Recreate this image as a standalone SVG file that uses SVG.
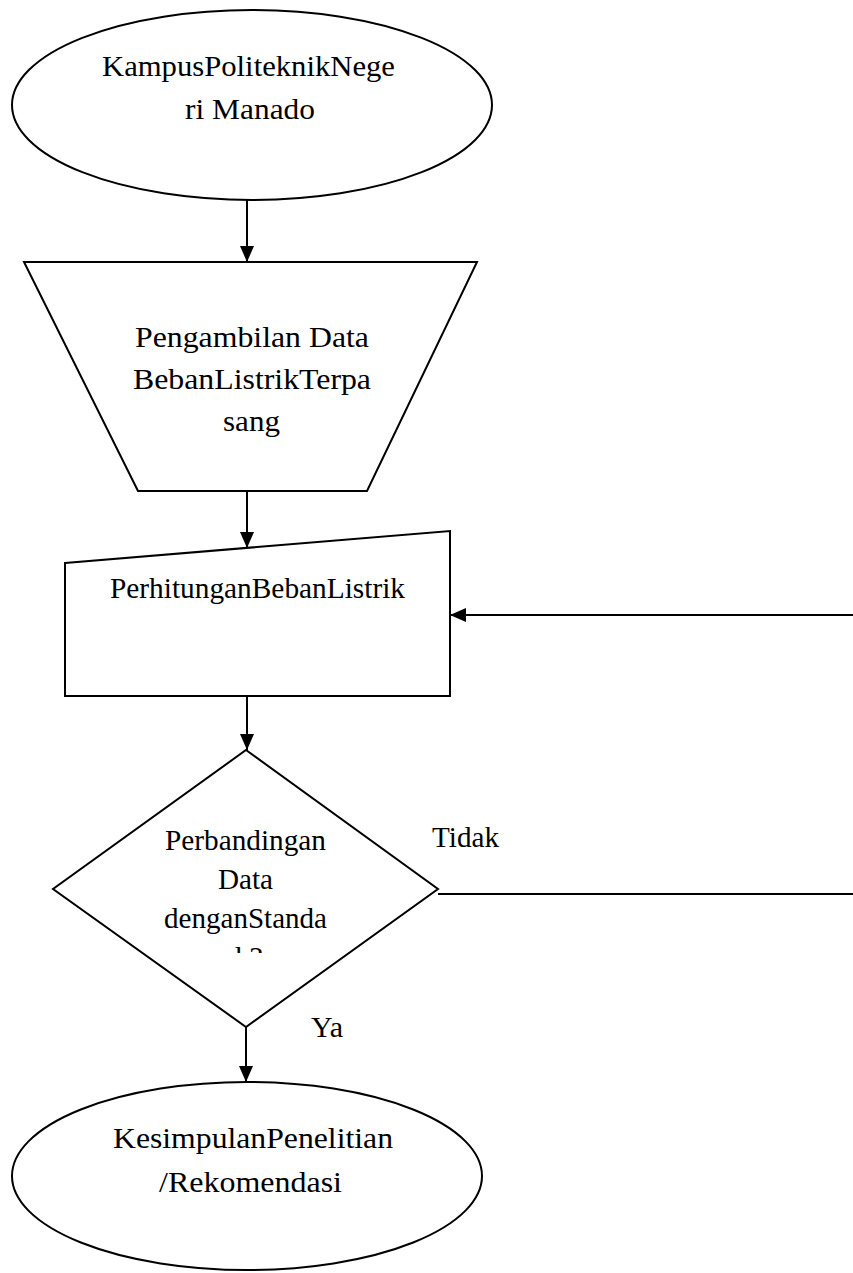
<svg xmlns="http://www.w3.org/2000/svg" width="853" height="1273" viewBox="0 0 853 1273">
<style>
.s{fill:#fff;stroke:#000;stroke-width:2}
.c{fill:none;stroke:#000;stroke-width:2}
text{font-family:'Liberation Serif','Times New Roman',serif;font-size:30px;fill:#000}
</style>
<defs>
<marker id="ah" markerUnits="userSpaceOnUse" markerWidth="16" markerHeight="14" refX="16" refY="7" orient="auto">
<path d="M0,0 L16,7 L0,14 z" fill="#000"/>
</marker>
<clipPath id="dclip"><rect x="0" y="0" width="853" height="953"/></clipPath>
</defs>
<rect width="853" height="1273" fill="#fff"/>
<g id="n1">
<ellipse class="s" cx="252" cy="105" rx="240" ry="95"/>
<text x="102" y="76" textLength="293" lengthAdjust="spacingAndGlyphs">KampusPoliteknikNege</text>
<text x="185" y="119" textLength="130" lengthAdjust="spacingAndGlyphs">ri Manado</text>
</g>
<g id="n2">
<polygon class="s" points="24,262 477,262 367,491 138,491"/>
<text x="135" y="347" textLength="234" lengthAdjust="spacingAndGlyphs">Pengambilan Data</text>
<text x="133" y="389" textLength="238" lengthAdjust="spacingAndGlyphs">BebanListrikTerpa</text>
<text x="223" y="431" textLength="57" lengthAdjust="spacingAndGlyphs">sang</text>
</g>
<g id="n3">
<polygon class="s" points="65,563 450,531 450,696 65,696"/>
<text x="110" y="598" textLength="295" lengthAdjust="spacingAndGlyphs">PerhitunganBebanListrik</text>
</g>
<g id="n4">
<polygon class="s" points="246,750 438,889 246,1027 53,889"/>
<text x="165" y="850" textLength="161" lengthAdjust="spacingAndGlyphs">Perbandingan</text>
<text x="218" y="889" textLength="55" lengthAdjust="spacingAndGlyphs">Data</text>
<text x="164" y="928" textLength="163" lengthAdjust="spacingAndGlyphs">denganStanda</text>
<text x="217" y="967" clip-path="url(#dclip)">rd ?</text>
</g>
<g id="n5">
<ellipse class="s" cx="247" cy="1176" rx="235" ry="94"/>
<text x="113" y="1148" textLength="280" lengthAdjust="spacingAndGlyphs">KesimpulanPenelitian</text>
<text x="159" y="1192" textLength="183" lengthAdjust="spacingAndGlyphs">/Rekomendasi</text>
</g>
<g id="connectors">
<line class="c" x1="247" y1="200" x2="247" y2="262" marker-end="url(#ah)"/>
<line class="c" x1="247" y1="491" x2="247" y2="548" marker-end="url(#ah)"/>
<line class="c" x1="247" y1="696" x2="247" y2="750" marker-end="url(#ah)"/>
<line class="c" x1="246" y1="1027" x2="246" y2="1082" marker-end="url(#ah)"/>
<line class="c" x1="853" y1="615" x2="450" y2="615" marker-end="url(#ah)"/>
<line class="c" x1="438" y1="894" x2="853" y2="894"/>
<text x="432" y="847" textLength="67" lengthAdjust="spacingAndGlyphs">Tidak</text>
<text x="311" y="1037" textLength="32" lengthAdjust="spacingAndGlyphs">Ya</text>
</g>
</svg>
